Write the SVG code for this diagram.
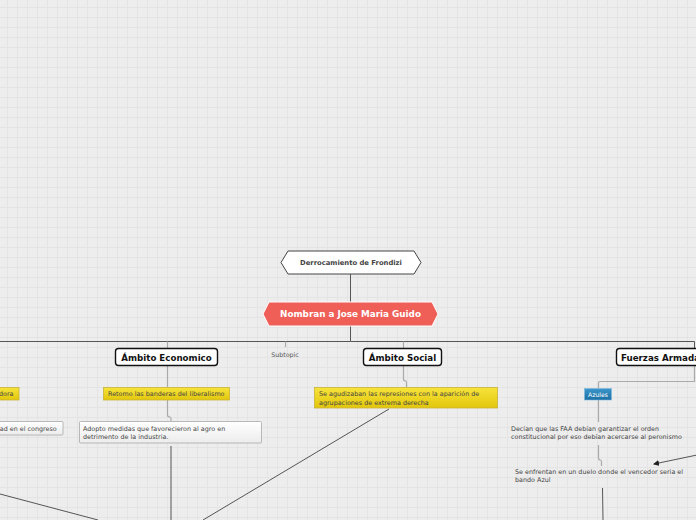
<svg xmlns="http://www.w3.org/2000/svg" width="696" height="520" viewBox="0 0 696 520">
<defs>
<pattern id="grid" width="10" height="10" patternUnits="userSpaceOnUse" x="7" y="7">
<rect width="10" height="10" fill="#ededed"/>
<path d="M0 0.5H10M0.5 0V10" stroke="#e4e4e4" stroke-width="1"/>
</pattern>
<linearGradient id="yel" x1="0" y1="0" x2="0" y2="1">
<stop offset="0" stop-color="#f7e43a"/>
<stop offset="1" stop-color="#e2c60c"/>
</linearGradient>
<linearGradient id="wht" x1="0" y1="0" x2="0" y2="1">
<stop offset="0" stop-color="#ffffff"/>
<stop offset="1" stop-color="#ececec"/>
</linearGradient>
<linearGradient id="blu" x1="0" y1="0" x2="0" y2="1">
<stop offset="0" stop-color="#3c96cc"/>
<stop offset="1" stop-color="#1b6fa3"/>
</linearGradient>
<marker id="arr" markerWidth="6" markerHeight="6" refX="5" refY="3" orient="auto" markerUnits="userSpaceOnUse">
<path d="M0 0L6 3L0 6Z" fill="#222"/>
</marker>
</defs>
<style>
text{font-family:"DejaVu Sans","Verdana",sans-serif}
.t{font-size:6.4px;fill:#444}
.h{font-size:8.7px;font-weight:bold;fill:#111}
.main{fill:none;stroke:#555;stroke-width:1}
.sub{fill:none;stroke:#aaa;stroke-width:1.2}
.thin{fill:none;stroke:#444;stroke-width:0.9}
.topic{fill:#fff;stroke:#111;stroke-width:1.4}
.yb{fill:url(#yel);stroke:#c9b23a;stroke-width:0.8}
.wb{fill:url(#wht);stroke:#a8a8a8;stroke-width:0.8}
</style>
<rect width="696" height="520" fill="url(#grid)"/>

<g id="connectors">
<path class="main" d="M350.5 274V302"/>
<path class="main" d="M350.5 326V341.5H-2"/>
<path class="main" d="M350.5 341.5H694.5V350"/>
<path class="sub" d="M167.5 341.5V348"/>
<path class="sub" d="M285.5 341.5V347"/>
<path class="sub" d="M403.5 341.5V348"/>
<path class="sub" d="M167.5 366V387"/>
<path class="sub" d="M167.5 400V415Q167.5 417 170 417Q171 417 171 419V421"/>
<path class="sub" d="M403.5 366V379Q403.5 381 406 381Q406.5 381 406.5 383V387"/>
<path class="sub" d="M694.5 366V381.5H600Q598.5 381.5 598.5 383V388"/>
<path class="sub" d="M598.5 400V422"/>
<path class="sub" d="M598.5 445V458Q598.5 460 600.5 460Q601.5 460 601.5 462V466"/>
<path class="thin" d="M171 446V520"/>
<path class="thin" d="M0 494L98 520"/>
<path class="thin" d="M389 409L203 520"/>
<path class="thin" d="M602.5 488L603 520"/>
<path class="thin" d="M697 455L654 464" marker-end="url(#arr)"/>
</g>

<g id="n-derrocamiento">
<path d="M288 251H414L421 262.5L414 274H288L281 262.5Z" fill="#fff" stroke="#444" stroke-width="1"/>
<text x="351" y="265" text-anchor="middle" style="font-size:6.8px;font-weight:bold;fill:#444">Derrocamiento de Frondizi</text>
</g>

<g id="n-nombran">
<path d="M269 302H432L438 314L432 326H269L263 314Z" fill="#ef5f58" stroke="#fff" stroke-width="1"/>
<text x="350.5" y="317.2" text-anchor="middle" style="font-size:8.8px;font-weight:bold;fill:#fff">Nombran a Jose Maria Guido</text>
</g>

<g id="n-economico">
<rect class="topic" x="115.5" y="348.5" width="102" height="17" rx="3"/>
<text class="h" x="166.5" y="360.5" text-anchor="middle">Ámbito Economico</text>
</g>

<g id="n-subtopic">
<text x="285" y="357" text-anchor="middle" style="font-size:6.3px;fill:#555">Subtopic</text>
</g>

<g id="n-social">
<rect class="topic" x="363.5" y="348.5" width="78" height="17" rx="3"/>
<text class="h" x="402.5" y="360.5" text-anchor="middle">Ámbito Social</text>
</g>

<g id="n-fuerzas">
<rect class="topic" x="616.5" y="348.5" width="100" height="17" rx="3"/>
<text class="h" x="621" y="360.5">Fuerzas Armadas</text>
</g>

<g id="n-dora">
<rect class="yb" x="-10" y="387.5" width="29" height="12.5"/>
<text class="t" x="-1" y="396">dora</text>
</g>

<g id="n-congreso">
<rect class="wb" x="-40" y="421.5" width="103" height="13.5" rx="1"/>
<text class="t" x="-2" y="430.5">lad en el congreso</text>
</g>

<g id="n-retomo">
<rect class="yb" x="103.5" y="387.5" width="126" height="12.5"/>
<text class="t" x="108" y="396.3">Retomo las banderas del liberalismo</text>
</g>

<g id="n-adopto">
<rect class="wb" x="79.5" y="421.5" width="182" height="21.5" rx="1"/>
<text class="t" x="83" y="430.5">Adopto medidas que favorecieron al agro en</text>
<text class="t" x="83" y="438.8">detrimento de la industria.</text>
</g>

<g id="n-represiones">
<rect class="yb" x="314.5" y="387.5" width="183" height="20.5"/>
<text class="t" x="319" y="396.3">Se agudizaban las represiones con la aparición de</text>
<text class="t" x="319" y="404.6">agrupaciones de extrema derecha</text>
</g>

<g id="n-azules">
<rect x="584.5" y="388.5" width="27" height="11.5" fill="url(#blu)" stroke="#7fb8dc" stroke-width="0.6"/>
<text x="598" y="396.6" text-anchor="middle" style="font-size:6.2px;fill:#fff">Azules</text>
</g>

<g id="n-decian">
<text class="t" x="511" y="431">Decían que las FAA debían garantizar el orden</text>
<text class="t" x="511" y="439">constitucional por eso debían acercarse al peronismo</text>
</g>

<g id="n-duelo">
<text class="t" x="515" y="473.5">Se enfrentan en un duelo donde el vencedor seria el</text>
<text class="t" x="515" y="481.5">bando Azul</text>
</g>
</svg>
